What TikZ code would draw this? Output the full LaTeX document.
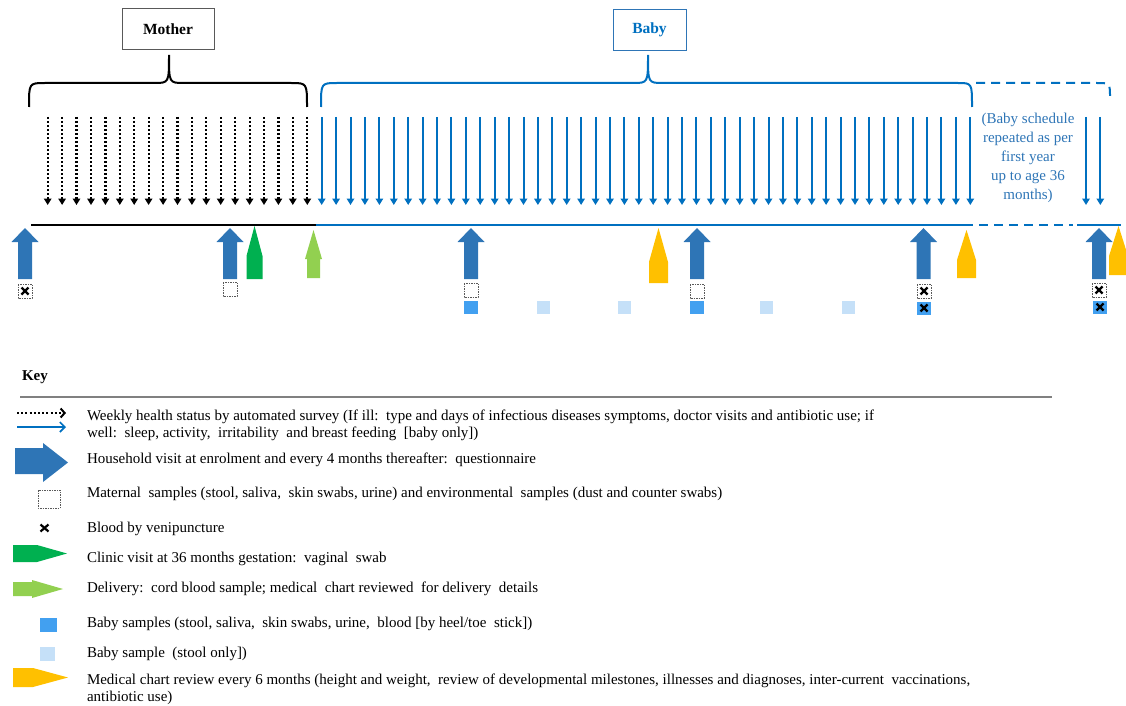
\documentclass[tikz,border=0pt]{standalone}
\usepackage{fontspec}
\setmainfont{Liberation Serif}
\usetikzlibrary{arrows.meta}
\definecolor{weekblue}{RGB}{0,112,192}
\definecolor{visitblue}{RGB}{46,117,182}
\definecolor{clinicgreen}{RGB}{0,176,80}
\definecolor{deliverygreen}{RGB}{146,208,80}
\definecolor{chartyellow}{RGB}{255,192,0}
\definecolor{babysample}{RGB}{66,160,240}
\definecolor{stoolsample}{RGB}{197,224,248}
\definecolor{boxgray}{RGB}{89,89,89}
\definecolor{keygray}{RGB}{128,128,128}

\begin{document}
\begin{tikzpicture}[x=1pt, y=-1pt, line width=2pt,
    momweek/.style={black, dash pattern=on 2pt off 2pt, line width=2.2pt, -{Triangle[width=7.5pt,length=6.5pt]}},
    babyweek/.style={weekblue, -{Triangle[width=7.5pt,length=6.5pt]}},
    dashline/.style={dash pattern=on 9pt off 6pt},
    samplebox/.style={draw=boxgray, line width=0.8pt, dash pattern=on 1.5pt off 1pt},
    venous/.style={black, line width=2.2pt},
    keytext/.style={anchor=base west, inner sep=0pt, font=\fontsize{15}{17}\selectfont},
    groupbox/.style={line width=1pt, minimum height=41pt, font=\bfseries\fontsize{15.5}{18}\selectfont}]
    \useasboundingbox (0,0) rectangle (1126,706);
    \node[groupbox, draw=boxgray, minimum width=92pt] (mother) at (168,29) {Mother};
    \node[groupbox, draw=visitblue, text=weekblue, minimum width=73pt] (baby) at (649.5,30) {Baby};%
    \draw (29,107) .. controls (29,83) .. (45,83) -- (154,83) .. controls (169,83) .. (169,55)
        .. controls (169,83) .. (184,83) -- (291,83) .. controls (307,83) .. (307,107);
    \draw[weekblue] (321,107) .. controls (321,83) .. (337,83) -- (633,83) .. controls (648,83) .. (648,55)
        .. controls (648,83) .. (663,83) -- (958,83) .. controls (972,83) .. (972,107);
    \draw[weekblue, dashline] (976,83) -- (1097,83) .. controls (1110,83) .. (1110,98);%
    \draw[momweek] (47.7,117) -- (47.7,205);
    \draw[momweek] (62.1,117) -- (62.1,205);
    \draw[momweek] (76.5,117) -- (76.5,205);
    \draw[momweek] (91.0,117) -- (91.0,205);
    \draw[momweek] (105.4,117) -- (105.4,205);
    \draw[momweek] (119.8,117) -- (119.8,205);
    \draw[momweek] (134.2,117) -- (134.2,205);
    \draw[momweek] (148.6,117) -- (148.6,205);
    \draw[momweek] (163.1,117) -- (163.1,205);
    \draw[momweek] (177.5,117) -- (177.5,205);
    \draw[momweek] (191.9,117) -- (191.9,205);
    \draw[momweek] (206.3,117) -- (206.3,205);
    \draw[momweek] (220.7,117) -- (220.7,205);
    \draw[momweek] (235.2,117) -- (235.2,205);
    \draw[momweek] (249.6,117) -- (249.6,205);
    \draw[momweek] (264.0,117) -- (264.0,205);
    \draw[momweek] (278.4,117) -- (278.4,205);
    \draw[momweek] (292.8,117) -- (292.8,205);
    \draw[momweek] (307.3,117) -- (307.3,205);%
    \draw[babyweek] (321.7,117) -- (321.7,205);
    \draw[babyweek] (336.1,117) -- (336.1,205);
    \draw[babyweek] (350.5,117) -- (350.5,205);
    \draw[babyweek] (364.9,117) -- (364.9,205);
    \draw[babyweek] (379.4,117) -- (379.4,205);
    \draw[babyweek] (393.8,117) -- (393.8,205);
    \draw[babyweek] (408.2,117) -- (408.2,205);
    \draw[babyweek] (422.6,117) -- (422.6,205);
    \draw[babyweek] (437.0,117) -- (437.0,205);
    \draw[babyweek] (451.4,117) -- (451.4,205);
    \draw[babyweek] (465.8,117) -- (465.8,205);
    \draw[babyweek] (480.2,117) -- (480.2,205);
    \draw[babyweek] (494.7,117) -- (494.7,205);
    \draw[babyweek] (509.1,117) -- (509.1,205);
    \draw[babyweek] (523.5,117) -- (523.5,205);
    \draw[babyweek] (537.9,117) -- (537.9,205);
    \draw[babyweek] (552.3,117) -- (552.3,205);
    \draw[babyweek] (566.7,117) -- (566.7,205);
    \draw[babyweek] (581.1,117) -- (581.1,205);
    \draw[babyweek] (595.5,117) -- (595.5,205);
    \draw[babyweek] (610.0,117) -- (610.0,205);
    \draw[babyweek] (624.4,117) -- (624.4,205);
    \draw[babyweek] (638.8,117) -- (638.8,205);
    \draw[babyweek] (653.2,117) -- (653.2,205);
    \draw[babyweek] (667.6,117) -- (667.6,205);
    \draw[babyweek] (682.0,117) -- (682.0,205);
    \draw[babyweek] (696.4,117) -- (696.4,205);
    \draw[babyweek] (710.8,117) -- (710.8,205);
    \draw[babyweek] (725.3,117) -- (725.3,205);
    \draw[babyweek] (739.7,117) -- (739.7,205);
    \draw[babyweek] (754.1,117) -- (754.1,205);
    \draw[babyweek] (768.5,117) -- (768.5,205);
    \draw[babyweek] (782.9,117) -- (782.9,205);
    \draw[babyweek] (797.3,117) -- (797.3,205);
    \draw[babyweek] (811.7,117) -- (811.7,205);
    \draw[babyweek] (826.1,117) -- (826.1,205);
    \draw[babyweek] (840.6,117) -- (840.6,205);
    \draw[babyweek] (855.0,117) -- (855.0,205);
    \draw[babyweek] (869.4,117) -- (869.4,205);
    \draw[babyweek] (883.8,117) -- (883.8,205);
    \draw[babyweek] (898.2,117) -- (898.2,205);
    \draw[babyweek] (912.6,117) -- (912.6,205);
    \draw[babyweek] (927.0,117) -- (927.0,205);
    \draw[babyweek] (941.4,117) -- (941.4,205);
    \draw[babyweek] (955.9,117) -- (955.9,205);
    \draw[babyweek] (970.3,117) -- (970.3,205);
    \draw[babyweek] (1086.0,117) -- (1086.0,205);
    \draw[babyweek] (1100.3,117) -- (1100.3,205);%
    \node[align=center, inner sep=0pt, text=visitblue, font=\fontsize{15}{19}\selectfont] (repeat) at (1028,158)
        {(Baby schedule\\repeated as per\\first year\\up to age 36\\months)};%
    \draw[black] (31,225) -- (316,225);
    \draw[weekblue] (316,225) -- (973,225);
    \draw[weekblue, dashline] (979,225) -- (1073,225);
    \draw[weekblue] (1077,225) -- (1121,225);%
    \fill[visitblue] (25,228) -- ++(13.5,14) -- ++(-6.5,0) -- ++(0,37) -- ++(-14,0) -- ++(0,-37) -- ++(-6.5,0) -- cycle;
    \fill[visitblue] (230,228) -- ++(13.5,14) -- ++(-6.5,0) -- ++(0,37) -- ++(-14,0) -- ++(0,-37) -- ++(-6.5,0) -- cycle;
    \fill[visitblue] (471,228) -- ++(13.5,14) -- ++(-6.5,0) -- ++(0,37) -- ++(-14,0) -- ++(0,-37) -- ++(-6.5,0) -- cycle;
    \fill[visitblue] (697,228) -- ++(13.5,14) -- ++(-6.5,0) -- ++(0,37) -- ++(-14,0) -- ++(0,-37) -- ++(-6.5,0) -- cycle;
    \fill[visitblue] (923.5,228) -- ++(13.5,14) -- ++(-6.5,0) -- ++(0,37) -- ++(-14,0) -- ++(0,-37) -- ++(-6.5,0) -- cycle;
    \fill[visitblue] (1099,228) -- ++(13.5,14) -- ++(-6.5,0) -- ++(0,37) -- ++(-14,0) -- ++(0,-37) -- ++(-6.5,0) -- cycle;%
    \fill[clinicgreen] (254.5,226) -- (262.5,256) -- (262.5,279) -- (246.5,279) -- (246.5,256) -- cycle;
    \fill[deliverygreen] (313.5,230) -- (322,259) -- (320,259) -- (320,278) -- (307,278) -- (307,259) -- (305,259) -- cycle;
    \fill[chartyellow] (658.5,228) -- (668,262) -- (668,283) -- (649,283) -- (649,262) -- cycle;
    \fill[chartyellow] (966.5,230) -- (976,260) -- (976,278) -- (957,278) -- (957,260) -- cycle;
    \fill[chartyellow] (1118.5,226) -- (1128,256) -- (1128,275) -- (1109,275) -- (1109,256) -- cycle;%
    \draw[samplebox] (18,284) rectangle (32,298);
    \draw[samplebox] (223,282) rectangle (237,296);
    \draw[samplebox] (464,283) rectangle (478,297);
    \draw[samplebox] (690,284) rectangle (704,298);
    \draw[samplebox] (917,284) rectangle (931,298);
    \draw[samplebox] (1092,283) rectangle (1106,297);%
    \fill[babysample] (464,300.5) rectangle (478,313.5);
    \fill[babysample] (690,300.5) rectangle (704,313.5);
    \fill[babysample] (917,301.5) rectangle (931,314.5);
    \fill[babysample] (1093,300.5) rectangle (1107,313.5);
    \fill[stoolsample] (537,300.5) rectangle (550,313.5);
    \fill[stoolsample] (617.5,300.5) rectangle (630.5,313.5);
    \fill[stoolsample] (760,300.5) rectangle (773,313.5);
    \fill[stoolsample] (841.5,300.5) rectangle (854.5,313.5);%
    \draw[venous] (21.5,287.5) -- ++(7,7) (21.5,294.5) -- ++(7,-7);
    \draw[venous] (920.5,287.5) -- ++(7,7) (920.5,294.5) -- ++(7,-7);
    \draw[venous] (1095.5,286.5) -- ++(7,7) (1095.5,293.5) -- ++(7,-7);
    \draw[venous] (920.5,304.5) -- ++(7,7) (920.5,311.5) -- ++(7,-7);
    \draw[venous] (1096.5,303.5) -- ++(7,7) (1096.5,310.5) -- ++(7,-7);%
    \node[anchor=base west, inner sep=0pt, font=\bfseries\fontsize{15}{18}\selectfont] (key) at (21,380) {Key};
    \draw[keygray] (20,397) -- (1052,397);%
    \draw[black, dash pattern=on 2pt off 2.2pt, -{Straight Barb[length=4pt,width=9pt]}] (17,413) -- (66,413);
    \draw[weekblue, line width=1.6pt, -{Straight Barb[length=5pt,width=10pt]}] (17,427) -- (66,427);
    \fill[visitblue] (15,448) -- (43,448) -- (43,443) -- (68,462.5) -- (43,482) -- (43,474) -- (15,474) -- cycle;
    \draw[samplebox] (38,490) rectangle (60,508);
    \draw[venous] (40.5,524.5) -- ++(8,7) (40.5,531.5) -- ++(8,-7);
    \fill[clinicgreen] (13,545) -- (37,545) -- (67,553.5) -- (37,562) -- (13,562) -- cycle;
    \fill[deliverygreen] (13,582) -- (32,582) -- (32,580) -- (63,589) -- (32,598) -- (32,596) -- (13,596) -- cycle;
    \fill[babysample] (40,618) rectangle (57,632);
    \fill[stoolsample] (40,647) rectangle (55,661);
    \fill[chartyellow] (13,668) -- (33,668) -- (68,677.5) -- (33,687) -- (13,687) -- cycle;%
    \node[keytext] (weekly) at (86,420) {Weekly health status by automated survey (If ill:\ \ type and days of infectious diseases symptoms, doctor visits and antibiotic use; if};
    \node[keytext] (weekly2) at (86,437) {well:\ \ sleep, activity,\ \ irritability\ \ and breast feeding\ \ [baby only])};
    \node[keytext] (visit) at (86,463) {Household visit at enrolment and every 4 months thereafter:\ \ questionnaire};
    \node[keytext] (maternal) at (86,497) {Maternal\ \ samples (stool, saliva,\ \ skin swabs, urine) and environmental\ \ samples (dust and counter swabs)};
    \node[keytext] (blood) at (86,532) {Blood by venipuncture};
    \node[keytext] (clinic) at (86,562) {Clinic visit at 36 months gestation:\ \ vaginal\ \ swab};
    \node[keytext] (delivery) at (86,592) {Delivery:\ \ cord blood sample; medical\ \ chart reviewed\ \ for delivery\ \ details};
    \node[keytext] (babysamples) at (86,627) {Baby samples (stool, saliva,\ \ skin swabs, urine,\ \ blood [by heel/toe\ \ stick])};
    \node[keytext] (stoolonly) at (86,657) {Baby sample\ \ (stool only])};
    \node[keytext] (chart) at (86,684) {Medical chart review every 6 months (height and weight,\ \ review of developmental milestones, illnesses and diagnoses, inter-current\ \ vaccinations,};
    \node[keytext] (chart2) at (86,701) {antibiotic use)};%
\end{tikzpicture}
\end{document}
